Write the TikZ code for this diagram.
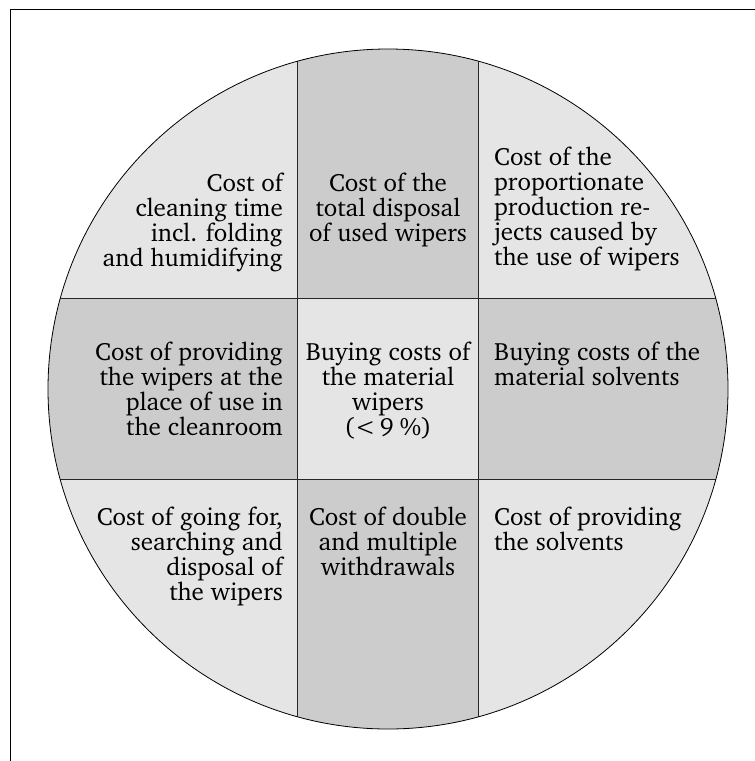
\documentclass[tikz,border=0pt]{standalone}
\usepackage[T1]{fontenc}
\usepackage{charter}
\definecolor{lightcell}{gray}{0.9}
\definecolor{darkcell}{gray}{0.8}
\newcommand{\fstrut}{\rule{0pt}{20pt}}
\tikzset{
  frameline/.style={line width=0.8pt, black},
  gridline/.style={line width=0.8pt, black!85},
  txt/.style={inner sep=0pt, font=\fontsize{25}{25}\selectfont},
  txtr/.style={txt, align=right, anchor=north east},
  txtl/.style={txt, align=left, anchor=north west},
  txtc/.style={txt, align=center, anchor=north},
}
\begin{document}
\begin{tikzpicture}[x=1pt,y=-1pt]
\useasboundingbox (0,0) rectangle (755,761);
\draw[frameline] (755,9.5) -- (10,9.5) -- (10,761);
\coordinate (c) at (388,389);
\begin{scope}
  \clip (c) circle (340);
  \fill[lightcell] (0,0) rectangle (755,761);
  \fill[darkcell] (297,0) rectangle (478.5,298);
  \fill[darkcell] (297,479.5) rectangle (478.5,761);
  \fill[darkcell] (0,298) rectangle (297,479.5);
  \fill[darkcell] (478.5,298) rectangle (755,479.5);
  \draw[gridline] (297,0) -- (297,761);
  \draw[gridline] (478.5,0) -- (478.5,761);
  \draw[gridline] (0,298) -- (755,298);
  \draw[gridline] (0,479.5) -- (755,479.5);
\end{scope}
\draw[frameline] (c) circle (340);

\node[txtr] (tl) at (283,171) {\fstrut Cost of\\cleaning time\\incl. folding\\and humidifying};
\node[txtc] (tm) at (388,171) {\fstrut Cost of the\\total disposal\\of used wipers};
\node[txtl] (tr) at (494,145) {\fstrut Cost of the\\proportionate\\production re-\\jects caused by\\the use of wipers};
\node[txtr] (ml) at (283,340) {\fstrut Cost of providing\\the wipers at the\\place of use in\\the cleanroom};
\node[txtc] (mc) at (388,340) {\fstrut Buying costs of\\the material\\wipers\\(<\,9\hspace{0.25em}\%)};
\node[txtl] (mr) at (494,340) {\fstrut Buying costs of the\\material solvents};
\node[txtr] (bl) at (283,505) {\fstrut Cost of going for,\\searching and\\disposal of\\the wipers};
\node[txtc] (bm) at (388,505) {\fstrut Cost of double\\and multiple\\withdrawals};
\node[txtl] (br) at (494,505) {\fstrut Cost of providing\\the solvents};
\end{tikzpicture}
\end{document}
